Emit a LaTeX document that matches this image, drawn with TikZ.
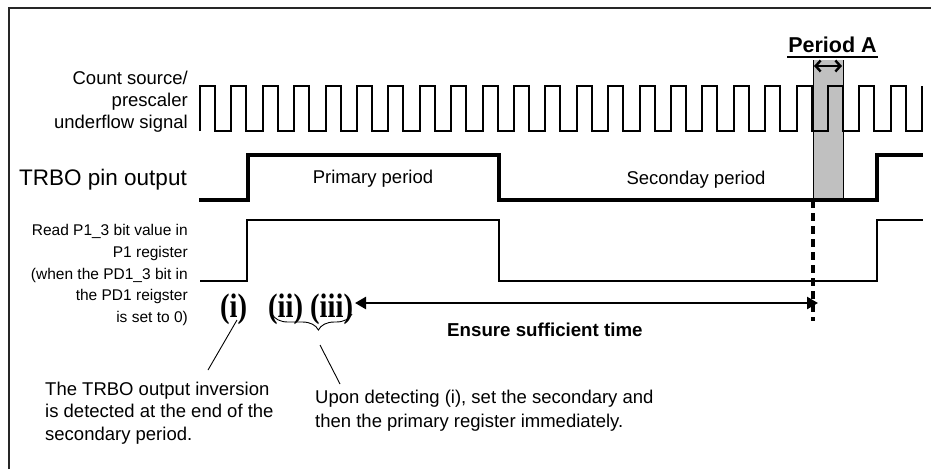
\documentclass[tikz,border=0pt]{standalone}
\usepackage{graphicx}
\usepackage{fontspec}
\setmainfont{Liberation Sans}
\newfontfamily\serifb{Liberation Serif}
\usetikzlibrary{arrows.meta,decorations.pathreplacing,calc}
\definecolor{bandgray}{RGB}{192,192,192}
\newcommand{\romtxt}[1]{\scalebox{0.84}[1]{#1}}
\tikzset{
  txt/.style={inner sep=0pt, font=\fontsize{18.5}{22.5}\selectfont},
  smalltxt/.style={inner sep=0pt, font=\fontsize{15.5}{21.5}\selectfont},
  bigtxt/.style={inner sep=0pt, font=\fontsize{22.5}{26}\selectfont},
  romlbl/.style={inner sep=0pt, font=\serifb\bfseries\fontsize{34}{34}\selectfont},
  clk/.style={line width=2pt, line join=miter},
  trbo/.style={line width=4.8pt, line join=miter},
  rdline/.style={line width=2.2pt, line join=miter},
  frame/.style={line width=1.6pt, black!85},
  leader/.style={line width=0.9pt},
}
\begin{document}
\begin{tikzpicture}[x=1pt,y=-1pt]
\useasboundingbox (0,0) rectangle (931,469);
% frame (only left and top edges visible)
\draw[frame] (9,469) -- (9,8) -- (931,8);
% gray band (Period A)
\fill[bandgray] (813,60) rectangle (843,200);
\draw[line width=1pt] (813,60) -- (813,200);
\draw[line width=1pt] (843,60) -- (843,200);
% count source clock
\draw[clk] (200,131) \foreach \k in {0,...,22} { -- ++(0,-45) -- ++(15,0) -- ++(0,45) -- ++(16.4,0) } -- ++(0,-45);
% TRBO pin output
\draw[trbo] (199,200) -- (248,200) -- (248,155) -- (499,155) -- (499,200) -- (877,200) -- (877,155) -- (923,155);
% read P1_3 value
\draw[rdline] (200,281) -- (247,281) -- (247,220) -- (499,220) -- (499,281) -- (877,281) -- (877,220) -- (923,220);
% dashed marker
\coordinate (dtop) at (813,200);
\coordinate (dbot) at (813,321);
\draw[line width=3.2pt, dash pattern=on 8pt off 5pt] (dtop) -- (dbot);
% labels left
\node[txt, anchor=base east] (cs1) at (188,84) {Count source/};
\node[txt, anchor=base east] (cs2) at (188,106) {prescaler};
\node[txt, anchor=base east] (cs3) at (188,128) {underflow signal};
\node[bigtxt, anchor=base east] (trbolbl) at (187,185) {TRBO pin output};
\node[smalltxt, anchor=base east] (rd1) at (188,235) {Read P1\_3 bit value in};
\node[smalltxt, anchor=base east] (rd2) at (188,257) {P1 register};
\node[smalltxt, anchor=base east] (rd3) at (188,279) {(when the PD1\_3 bit in};
\node[smalltxt, anchor=base east] (rd4) at (188,300) {the PD1 reigster};
\node[smalltxt, anchor=base east] (rd5) at (188,322) {is set to 0)};
% period texts
\node[txt, anchor=base] (prim) at (373,183) {Primary period};
\node[txt, anchor=base] (sec) at (696,184) {Seconday period};
% Period A
\node[inner sep=0pt, font=\bfseries\fontsize{21.5}{24}\selectfont, anchor=base] (pa) at (832.5,52) {Period A};
\draw[line width=2pt] (787,57) -- (878,57);
\coordinate (pal) at (814,66);
\coordinate (par) at (842,66);
\draw[line width=2.4pt, {Straight Barb[length=5pt,width=11pt]}-{Straight Barb[length=5pt,width=11pt]}] (pal) -- (par);
% roman labels
\node[romlbl, anchor=base west] (r1) at (220,317) {\romtxt{(i)}};
\node[romlbl, anchor=base west] (r2) at (268,317) {\romtxt{(ii)}};
\node[romlbl, anchor=base west] (r3) at (310,317) {\romtxt{(iii)}};
% ensure arrow
\coordinate (arrL) at (355,303);
\coordinate (arrR) at (818,303);
\draw[line width=2.5pt, {Triangle[length=11pt,width=12pt]}-{Triangle[length=11pt,width=12pt]}] (arrL) -- (arrR);
\node[inner sep=0pt, font=\bfseries\fontsize{18.7}{22}\selectfont, anchor=base west] (ens) at (447,336) {Ensure sufficient time};
% brace under (ii)(iii)
\draw[line width=0.9pt, decorate, decoration={brace, mirror, amplitude=16pt, aspect=0.58}] (272,314) -- (352,314);
% leader lines
\coordinate (l1a) at (237,320);
\coordinate (l1b) at (208,370);
\draw[leader] (l1a) -- (l1b);
\coordinate (l2a) at (320,345);
\coordinate (l2b) at (340,384);
\draw[leader] (l2a) -- (l2b);
% bottom notes
\node[txt, anchor=base west] (n1a) at (45,395) {The TRBO output inversion};
\node[txt, anchor=base west] (n1b) at (45,417.5) {is detected at the end of the};
\node[txt, anchor=base west] (n1c) at (45,440) {secondary period.};
\node[txt, anchor=base west] (n2a) at (315,403) {Upon detecting (i), set the secondary and};
\node[txt, anchor=base west] (n2b) at (315,427) {then the primary register immediately.};
\end{tikzpicture}
\end{document}
